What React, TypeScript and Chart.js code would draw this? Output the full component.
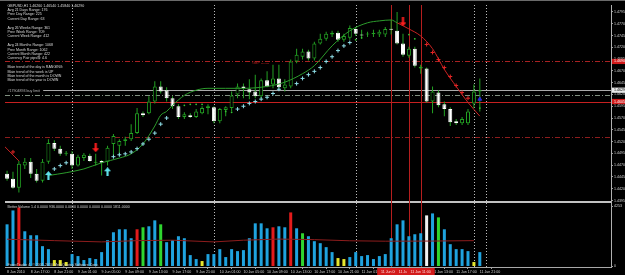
import React, { useEffect, useRef } from 'react';
import { Chart, registerables } from 'chart.js';

Chart.register(...registerables);

// ---------- data (GBPUSD H1) ----------
const OPEN = [
  1.4452, 1.4441, 1.4422, 1.4469, 1.4477, 1.4452, 1.4437, 1.4477, 1.4517, 1.4505,
  1.4494, 1.4494, 1.4469, 1.4485, 1.4490, 1.4475, 1.4479, 1.4477, 1.4515, 1.4511,
  1.4521, 1.4525, 1.4538, 1.4580, 1.4580, 1.4605, 1.4637, 1.4629, 1.4612, 1.4595,
  1.4572, 1.4576, 1.4572, 1.4580, 1.4591, 1.4593, 1.4563, 1.4587, 1.4591, 1.4620,
  1.4637, 1.4631, 1.4626, 1.4616, 1.4650, 1.4641, 1.4654, 1.4633, 1.4637, 1.4690,
  1.4700, 1.4711, 1.4696, 1.4728, 1.4738, 1.4747, 1.4751, 1.4736, 1.4740, 1.4759,
  1.4747, 1.4747, 1.4748, 1.4747, 1.4747, 1.4759, 1.4755, 1.4728, 1.4702, 1.4717,
  1.4675, 1.4675, 1.4605, 1.4624, 1.4599, 1.4589, 1.4563, 1.4559, 1.4559, 1.4601,
  1.4626,
];
const HIGH = [
  1.4458, 1.4456, 1.4479, 1.4485, 1.4485, 1.4462, 1.4483, 1.4525, 1.4523, 1.4511,
  1.4500, 1.4500, 1.4492, 1.4496, 1.4494, 1.4494, 1.4481, 1.4511, 1.4536, 1.4525,
  1.4530, 1.4557, 1.4591, 1.4584, 1.4616, 1.4648, 1.4648, 1.4635, 1.4616, 1.4599,
  1.4582, 1.4580, 1.4589, 1.4595, 1.4599, 1.4595, 1.4591, 1.4595, 1.4626, 1.4643,
  1.4643, 1.4652, 1.4662, 1.4654, 1.4669, 1.4683, 1.4683, 1.4652, 1.4694, 1.4717,
  1.4717, 1.4715, 1.4732, 1.4749, 1.4753, 1.4755, 1.4755, 1.4749, 1.4766, 1.4763,
  1.4757, 1.4753, 1.4757, 1.4757, 1.4763, 1.4778, 1.4795, 1.4749, 1.4721, 1.4721,
  1.4683, 1.4677, 1.4637, 1.4629, 1.4605, 1.4593, 1.4568, 1.4572, 1.4589, 1.4641,
  1.4654,
];
const LOW = [
  1.4437, 1.4420, 1.4412, 1.4462, 1.4443, 1.4433, 1.4433, 1.4473, 1.4500, 1.4490,
  1.4490, 1.4462, 1.4467, 1.4479, 1.4477, 1.4469, 1.4448, 1.4469, 1.4485, 1.4490,
  1.4511, 1.4521, 1.4536, 1.4572, 1.4578, 1.4601, 1.4622, 1.4605, 1.4589, 1.4568,
  1.4568, 1.4570, 1.4570, 1.4578, 1.4578, 1.4559, 1.4559, 1.4574, 1.4584, 1.4612,
  1.4612, 1.4610, 1.4612, 1.4612, 1.4635, 1.4633, 1.4633, 1.4626, 1.4633, 1.4686,
  1.4694, 1.4692, 1.4692, 1.4726, 1.4734, 1.4742, 1.4732, 1.4732, 1.4736, 1.4744,
  1.4738, 1.4742, 1.4742, 1.4742, 1.4742, 1.4747, 1.4726, 1.4700, 1.4698, 1.4677,
  1.4664, 1.4603, 1.4580, 1.4593, 1.4574, 1.4553, 1.4555, 1.4555, 1.4555, 1.4591,
  1.4584,
];
const CLOSE = [
  1.4441, 1.4422, 1.4473, 1.4477, 1.4452, 1.4437, 1.4477, 1.4517, 1.4505, 1.4494,
  1.4496, 1.4469, 1.4488, 1.4492, 1.4479, 1.4477, 1.4475, 1.4507, 1.4532, 1.4521,
  1.4525, 1.4538, 1.4580, 1.4576, 1.4605, 1.4637, 1.4626, 1.4612, 1.4595, 1.4572,
  1.4578, 1.4572, 1.4584, 1.4591, 1.4595, 1.4563, 1.4589, 1.4593, 1.4618, 1.4637,
  1.4633, 1.4624, 1.4616, 1.4650, 1.4637, 1.4654, 1.4635, 1.4641, 1.4690, 1.4704,
  1.4711, 1.4696, 1.4728, 1.4738, 1.4749, 1.4751, 1.4736, 1.4744, 1.4761, 1.4749,
  1.4745, 1.4749, 1.4749, 1.4753, 1.4759, 1.4757, 1.4728, 1.4704, 1.4717, 1.4681,
  1.4679, 1.4605, 1.4626, 1.4597, 1.4589, 1.4561, 1.4559, 1.4568, 1.4584, 1.4626,
  1.4629,
];

const VOLUME = [
  2940, 3920, 4130, 2450, 2170, 2170, 1400, 1190, 420, 420,
  280, 840, 700, 420, 560, 490, 980, 1820, 2380, 2590,
  2590, 1960, 2590, 2730, 2800, 3220, 2940, 1680, 1820, 2100,
  1960, 770, 490, 350, 840, 840, 1190, 630, 1190, 1050,
  1120, 1960, 3010, 3010, 2660, 2730, 2800, 2730, 3780, 2660,
  2310, 2100, 1750, 1610, 1330, 980, 560, 490, 630, 980,
  700, 770, 490, 700, 840, 1960, 2940, 3220, 2100, 2240,
  2310, 3570, 3710, 3430, 2590, 1540, 1190, 1190, 1050, 280,
  980,
];
// b = normal, r = climax, g = low-volume churn, y = low volume, w = climax churn
const VOLUME_KIND = [
  'b', 'b', 'r', 'b', 'b', 'b', 'b', 'b', 'y', 'y',
  'y', 'b', 'b', 'b', 'b', 'b', 'b', 'b', 'b', 'b',
  'b', 'b', 'r', 'g', 'b', 'b', 'g', 'b', 'b', 'b',
  'b', 'b', 'b', 'y', 'b', 'b', 'b', 'b', 'b', 'b',
  'b', 'b', 'b', 'b', 'b', 'r', 'b', 'b', 'r', 'b',
  'g', 'b', 'b', 'b', 'b', 'b', 'y', 'y', 'b', 'b',
  'b', 'b', 'b', 'b', 'b', 'b', 'b', 'b', 'b', 'b',
  'b', 'w', 'b', 'g', 'b', 'b', 'b', 'b', 'b', 'y',
  'b',
];
const VOLUME_MA_INDEX = [0, 8, 16, 22, 28, 35, 40, 46, 52, 58, 64, 72, 79];
const VOLUME_MA = [1890, 1790, 1700, 1790, 1820, 1700, 1820, 1900, 1860, 1780, 1750, 1760, 1790];

const GREEN_MA_INDEX = [7, 10, 13, 16, 19, 21, 23, 25, 26, 27, 28, 30, 32, 34, 37, 40, 44, 47, 50, 52, 55, 58, 61, 63, 65, 66];
const GREEN_MA = [
  1.4448, 1.4454, 1.4462, 1.4475, 1.4485, 1.4494, 1.4515, 1.4553, 1.4576, 1.4584,
  1.4597, 1.4618, 1.4629, 1.4633, 1.4633, 1.4633, 1.4637, 1.4646, 1.4664, 1.4681,
  1.4723, 1.4755, 1.4772, 1.4776, 1.4778, 1.4772,
];
const RED_MA_INDEX = [66, 68, 70, 72, 74, 76, 78, 80];
const RED_MA = [1.4772, 1.4759, 1.4744, 1.4717, 1.4673, 1.4637, 1.4603, 1.4574];
const PREV_RED_MA_INDEX = [-1, 2];
const PREV_RED_MA = [1.4517, 1.4479];

const UP_STOP_INDEX = [8, 9, 10, 18, 19, 20, 21, 22, 23, 24, 25, 26, 27, 39, 40, 41, 42, 43, 44, 45, 46, 49, 50, 51, 52, 53, 54, 55, 56, 57, 58];
const UP_STOP = [
  1.4462, 1.4469, 1.4475, 1.4488, 1.4492, 1.4494, 1.4498, 1.4505, 1.4515, 1.4525,
  1.4538, 1.4557, 1.4570, 1.4589, 1.4595, 1.4601, 1.4605, 1.4610, 1.4614, 1.4622,
  1.4631, 1.4643, 1.4654, 1.4662, 1.4669, 1.4677, 1.4690, 1.4700, 1.4713, 1.4723,
  1.4730,
];
const NEUTRAL_DOT_INDEX = [30, 31, 32, 33, 37, 38, 59, 60, 68, 69, 80];
const NEUTRAL_DOT = [1.4597, 1.4599, 1.4599, 1.4599, 1.4584, 1.4582, 1.4736, 1.4740, 1.4747, 1.4738, 1.4591];
const DOWN_STOP_INDEX = [1, 71, 72, 73, 74, 75, 76, 77, 78];
const DOWN_STOP = [1.4498, 1.4726, 1.4709, 1.4694, 1.4677, 1.4658, 1.4639, 1.4624, 1.4612];
const MARK_INDEX = [80];
const MARK = [1.4610];

const BUY_ARROW_INDEX = [7, 17];
const BUY_ARROW = [1.4448, 1.4456];
const SELL_ARROW_INDEX = [15, 67];
const SELL_ARROW = [1.4507, 1.4774];

const RESIST_LEVEL = 1.4690;
const BID_LEVEL = 1.4629;
const BUY_LIMIT_LEVEL = 1.4619;
const SUPPORT_LEVEL = 1.4605;
const LOWER_LEVEL = 1.4530;

const PRICE_TICKS = [
  1.4795, 1.4770, 1.4745, 1.4720, 1.4695, 1.4670, 1.4645, 1.4620, 1.4595,
  1.4570, 1.4545, 1.4520, 1.4495, 1.4470, 1.4445, 1.4420, 1.4395,
];
const TIME_TICKS = [0, 4, 8, 12, 16, 20, 24, 28, 32, 36, 40, 44, 48, 52, 56, 60, 64, 68, 72, 76, 80];
const TIME_LABELS = [
  '8 Jun 2010', '8 Jun 17:00', '8 Jun 21:00', '9 Jun 01:00', '9 Jun 05:00', '9 Jun 09:00',
  '9 Jun 13:00', '9 Jun 17:00', '9 Jun 21:00', '10 Jun 01:00', '10 Jun 05:00', '10 Jun 09:00',
  '10 Jun 13:00', '10 Jun 17:00', '10 Jun 21:00', '11 Jun 01:00', '11 Jun 05:00', '11 Jun 09:00',
  '11 Jun 13:00', '11 Jun 17:00', '11 Jun 21:00',
];
const DAY_SEPARATORS = [11, 35, 59, 79, 81];
const MARKED_BARS = [65, 68, 70];
const MARKED_TIMES = ['11 Jun 06:00', '11 Jun 09:00', '11 Jun 11:00'];
const VOLUME_AXIS_LABELS = [4253, 0];

const INFO_LINES = [
  'GBPUSD,H1 1.46260 1.46540 1.45840 1.46290',
  'Avg 21 Days Range: 176',
  'Prev Day Range: 225',
  'Current Day Range: 63',
  '',
  'Avg 26 Weeks Range: 361',
  'Prev Week Range: 709',
  'Current Week Range: 412',
  '',
  'Avg 24 Months Range: 1068',
  'Prev Month Range: 1062',
  'Current Month Range: 422',
  'Currency Pair pips/$: 4.6',
  '',
  'Main trend of the day is RANGING',
  'Main trend of the week is UP',
  'Main trend of the month is DOWN',
  'Main trend of the year is DOWN',
];
const ORDER_LABEL = '#17904893 buy limit';
const VOLUME_TITLE = 'Better Volume 1.4 0.0000 936.0000 0.0000 0.0000 0.0000 0.0000 1811.0000';
const COPYRIGHT = 'ForexTrader 4, \u00A9 2001-2010 MetaQuotes Software Corp.';
const LEVEL_TAG = 'GBP -------';
const LEVEL_TAG_INDEX = 41.5;

// ---------- axis ranges ----------
const X_MIN = -0.35;
const X_MAX = 102.2;
const PRICE_MIN = 1.425394;
const PRICE_MAX = 1.480974;
const PANEL_SPLIT_PRICE = 1.4393;
const VOL_MIN = -70;
const VOL_MAX = 18410;

const FONT = '"Liberation Sans", Arial, sans-serif';
const SMALL = 3.6;
const GREEN = '#23a123';
const VOLUME_COLORS = { b: '#1fa3df', r: '#e31b1b', g: '#2fd52f', y: '#e6e62e', w: '#f2f2f2' };

const pts = (xs: number[], ys: number[]) => xs.map((x, k) => ({ x, y: ys[k] }));

function makeArrow(color: string, up: boolean) {
  const c = document.createElement('canvas');
  c.width = 7;
  c.height = 9;
  const g = c.getContext('2d')!;
  g.fillStyle = color;
  g.beginPath();
  if (up) {
    g.moveTo(3.5, 0); g.lineTo(7, 4); g.lineTo(4.6, 4); g.lineTo(4.6, 9);
    g.lineTo(2.4, 9); g.lineTo(2.4, 4); g.lineTo(0, 4);
  } else {
    g.moveTo(3.5, 9); g.lineTo(7, 5); g.lineTo(4.6, 5); g.lineTo(4.6, 0);
    g.lineTo(2.4, 0); g.lineTo(2.4, 5); g.lineTo(0, 5);
  }
  g.closePath();
  g.fill();
  return c;
}

const overlay = {
  id: 'mt4Overlay',
  beforeDatasetsDraw(chart: any) {
    const { ctx, chartArea: a } = chart;
    const x = chart.scales.x;
    const y = chart.scales.y;
    ctx.save();
    ctx.lineWidth = 1;
    const hline = (price: number, color: string, dash: number[]) => {
      const py = Math.round(y.getPixelForValue(price)) + 0.5;
      ctx.strokeStyle = color;
      ctx.setLineDash(dash);
      ctx.beginPath();
      ctx.moveTo(a.left, py);
      ctx.lineTo(a.right, py);
      ctx.stroke();
    };
    const vline = (i: number, color: string, dash: number[]) => {
      const px = Math.round(x.getPixelForValue(i)) + 0.5;
      ctx.strokeStyle = color;
      ctx.setLineDash(dash);
      ctx.beginPath();
      ctx.moveTo(px, a.top);
      ctx.lineTo(px, a.bottom);
      ctx.stroke();
    };
    const sy = Math.round(y.getPixelForValue(PANEL_SPLIT_PRICE));
    ctx.fillStyle = '#c2c2c2';
    ctx.fillRect(a.left, sy, a.right - a.left, 2);
    hline(RESIST_LEVEL, '#a82222', [5, 2, 1, 2]);
    hline(LOWER_LEVEL, '#8c1d1d', [5, 2, 1, 2]);
    hline(BUY_LIMIT_LEVEL, '#7f8f7f', [5, 2, 1, 2]);
    hline(BID_LEVEL, '#a9a9a9', []);
    hline(SUPPORT_LEVEL, '#c62020', []);
    DAY_SEPARATORS.forEach((i) => vline(i, '#bdbdbd', [1, 2]));
    MARKED_BARS.forEach((i) => vline(i, '#b51e1e', []));
    ctx.restore();
  },
  afterDatasetsDraw(chart: any) {
    const { ctx, chartArea: a } = chart;
    const x = chart.scales.x;
    const y = chart.scales.y;
    ctx.save();
    ctx.font = `${SMALL}px ${FONT}`;
    ctx.textBaseline = 'middle';
    ctx.textAlign = 'left';
    ctx.fillStyle = '#dcdcdc';
    INFO_LINES.forEach((t, k) => {
      if (t) ctx.fillText(t, a.left + 2.5, a.top + 0.5 + k * 4.4);
    });
    const oy = y.getPixelForValue(BUY_LIMIT_LEVEL) - 4;
    const ow = ctx.measureText(ORDER_LABEL).width;
    ctx.fillStyle = '#000';
    ctx.fillRect(a.left, oy - 2.5, ow + 6, 5);
    ctx.fillStyle = '#b8b8b8';
    ctx.fillText(ORDER_LABEL, a.left + 2.5, oy);
    const sy = y.getPixelForValue(PANEL_SPLIT_PRICE);
    ctx.fillStyle = '#cfcfcf';
    ctx.fillText(VOLUME_TITLE, a.left + 2.5, sy + 6);
    ctx.fillText(COPYRIGHT, a.left + 2.5, a.bottom - 2.5);
    ctx.fillStyle = '#b52020';
    ctx.fillText(LEVEL_TAG, x.getPixelForValue(LEVEL_TAG_INDEX), y.getPixelForValue(RESIST_LEVEL) + 1.8);
    ctx.restore();
  },
  afterDraw(chart: any) {
    const { ctx, chartArea: a, width } = chart;
    const x = chart.scales.x;
    const y = chart.scales.y;
    const yv = chart.scales.yv;
    ctx.save();
    ctx.fillStyle = '#6a6a6a';
    ctx.fillRect(0, 0, width, 1);
    ctx.font = `${SMALL}px ${FONT}`;
    ctx.textBaseline = 'middle';
    ctx.textAlign = 'left';
    const tag = (price: number, bg: string, fg: string) => {
      const py = y.getPixelForValue(price);
      ctx.fillStyle = bg;
      ctx.fillRect(a.right + 1, py - 2.6, width - a.right, 5.2);
      ctx.fillStyle = fg;
      ctx.fillText(price.toFixed(5), a.right + 3, py);
    };
    tag(RESIST_LEVEL, '#d21a1a', '#ffffff');
    tag(BID_LEVEL, '#e8e8e8', '#000000');
    tag(SUPPORT_LEVEL, '#d21a1a', '#ffffff');
    ctx.strokeStyle = '#a0a0a0';
    ctx.lineWidth = 1;
    VOLUME_AXIS_LABELS.forEach((v) => {
      const py = yv.getPixelForValue(v);
      ctx.beginPath();
      ctx.moveTo(a.right, Math.round(py) + 0.5);
      ctx.lineTo(a.right + 2, Math.round(py) + 0.5);
      ctx.stroke();
      ctx.fillStyle = '#d0d0d0';
      ctx.fillText(String(v), a.right + 3, py);
    });
    ctx.textAlign = 'center';
    MARKED_BARS.forEach((i, k) => {
      const px = x.getPixelForValue(i);
      ctx.fillStyle = '#d21a1a';
      ctx.fillRect(px - 14, a.bottom + 1, 28, 7);
      ctx.fillStyle = '#ffdede';
      ctx.fillText(MARKED_TIMES[k], px, a.bottom + 4.5);
    });
    ctx.restore();
  },
};

export default function App() {
  const ref = useRef<HTMLCanvasElement>(null);
  useEffect(() => {
    document.body.style.margin = '0';
    document.body.style.background = '#000';
    const idx = OPEN.map((_, i) => i);
    const bull = idx.map((i) => CLOSE[i] >= OPEN[i]);
    const tickFont = { family: FONT, size: SMALL };
    const chart = new Chart(ref.current as HTMLCanvasElement, {
      type: 'bar',
      data: {
        datasets: [
          {
            type: 'bar',
            yAxisID: 'yv',
            data: VOLUME.map((v, i) => ({ x: i, y: v })),
            backgroundColor: VOLUME_KIND.map((k) => (VOLUME_COLORS as any)[k]),
            barThickness: 3,
            grouped: false,
            borderWidth: 0,
            inflateAmount: 0,
            order: 10,
          } as any,
          {
            type: 'line',
            yAxisID: 'yv',
            data: pts(VOLUME_MA_INDEX, VOLUME_MA),
            borderColor: '#8e1d1d',
            borderWidth: 1,
            pointRadius: 0,
            order: 9,
          } as any,
          {
            type: 'bar',
            yAxisID: 'y',
            data: idx.map((i) => ({ x: i, y: [LOW[i], HIGH[i]] })),
            backgroundColor: GREEN,
            barThickness: 1,
            grouped: false,
            borderWidth: 0,
            minBarLength: 1,
            inflateAmount: 0,
            order: 8,
          } as any,
          {
            type: 'bar',
            yAxisID: 'y',
            data: idx.map((i) => ({ x: i, y: [OPEN[i], CLOSE[i]] })),
            backgroundColor: bull.map((b) => (b ? '#000000' : '#ffffff')),
            borderColor: bull.map((b) => (b ? GREEN : '#ffffff')),
            borderWidth: 1,
            borderSkipped: false,
            barThickness: 4,
            grouped: false,
            minBarLength: 1,
            inflateAmount: 0,
            order: 7,
          } as any,
          {
            type: 'line',
            yAxisID: 'y',
            data: pts(GREEN_MA_INDEX, GREEN_MA),
            borderColor: '#2c9c2c',
            borderWidth: 1,
            pointRadius: 0,
            cubicInterpolationMode: 'monotone',
            order: 6,
          } as any,
          {
            type: 'line',
            yAxisID: 'y',
            data: pts(RED_MA_INDEX, RED_MA),
            borderColor: '#c92222',
            borderWidth: 1,
            pointRadius: 0,
            cubicInterpolationMode: 'monotone',
            order: 6,
          } as any,
          {
            type: 'line',
            yAxisID: 'y',
            data: pts(PREV_RED_MA_INDEX, PREV_RED_MA),
            borderColor: '#c92222',
            borderWidth: 1,
            pointRadius: 0,
            order: 6,
          } as any,
          {
            type: 'line',
            yAxisID: 'y',
            data: pts(UP_STOP_INDEX, UP_STOP),
            showLine: false,
            pointStyle: 'cross',
            pointRadius: 2,
            pointBorderColor: '#8fdfe8',
            pointBorderWidth: 1,
            order: 4,
          } as any,
          {
            type: 'line',
            yAxisID: 'y',
            data: pts(NEUTRAL_DOT_INDEX, NEUTRAL_DOT),
            showLine: false,
            pointStyle: 'circle',
            pointRadius: 0.9,
            pointBackgroundColor: '#34c234',
            pointBorderWidth: 0,
            order: 4,
          } as any,
          {
            type: 'line',
            yAxisID: 'y',
            data: pts(DOWN_STOP_INDEX, DOWN_STOP),
            showLine: false,
            pointStyle: 'cross',
            pointRadius: 2,
            pointBorderColor: '#e52525',
            pointBorderWidth: 1,
            order: 4,
          } as any,
          {
            type: 'line',
            yAxisID: 'y',
            data: pts(MARK_INDEX, MARK),
            showLine: false,
            pointStyle: 'triangle',
            pointRadius: 2.2,
            pointBackgroundColor: '#2b2bd8',
            pointBorderColor: '#2b2bd8',
            order: 3,
          } as any,
          {
            type: 'line',
            yAxisID: 'y',
            data: pts(BUY_ARROW_INDEX, BUY_ARROW),
            showLine: false,
            pointStyle: makeArrow('#5fe3ea', true),
            pointRadius: 4,
            order: 1,
          } as any,
          {
            type: 'line',
            yAxisID: 'y',
            data: pts(SELL_ARROW_INDEX, SELL_ARROW),
            showLine: false,
            pointStyle: makeArrow('#ff1e1e', false),
            pointRadius: 4,
            order: 1,
          } as any,
        ],
      },
      options: {
        animation: false,
        responsive: false,
        devicePixelRatio: 1,
        events: [],
        layout: { padding: { top: 3, left: 0, right: 0, bottom: 0 } },
        plugins: {
          legend: { display: false },
          tooltip: { enabled: false },
          title: { display: false },
        },
        scales: {
          x: {
            type: 'linear',
            position: 'bottom',
            min: X_MIN,
            max: X_MAX,
            offset: false,
            grid: { display: true, drawOnChartArea: false, drawTicks: true, tickLength: 2, color: '#9a9a9a' },
            border: { display: true, color: '#a8a8a8', width: 1 },
            ticks: {
              autoSkip: false,
              maxRotation: 0,
              minRotation: 0,
              align: 'start',
              padding: 0.5,
              color: '#d0d0d0',
              font: tickFont,
              callback: (v: any) => {
                const k = TIME_TICKS.indexOf(Number(v));
                return k >= 0 ? TIME_LABELS[k] : '';
              },
            },
            afterBuildTicks: (s: any) => {
              s.ticks = TIME_TICKS.map((v) => ({ value: v }));
            },
            afterFit: (s: any) => {
              s.height = 8;
            },
          },
          y: {
            type: 'linear',
            position: 'right',
            min: PRICE_MIN,
            max: PRICE_MAX,
            grid: { display: true, drawOnChartArea: false, drawTicks: true, tickLength: 2, color: '#9a9a9a' },
            border: { display: true, color: '#b0b0b0', width: 1 },
            ticks: {
              autoSkip: false,
              padding: 1,
              color: '#d0d0d0',
              font: tickFont,
              callback: (v: any) => Number(v).toFixed(5),
            },
            afterBuildTicks: (s: any) => {
              s.ticks = PRICE_TICKS.map((v) => ({ value: v }));
            },
            afterFit: (s: any) => {
              s.width = 14;
            },
          },
          yv: {
            type: 'linear',
            display: false,
            min: VOL_MIN,
            max: VOL_MAX,
          },
        },
      } as any,
      plugins: [overlay],
    });
    return () => chart.destroy();
  }, []);

  return (
    <div style={{ position: 'fixed', left: 0, top: 0, width: 625, height: 275, background: '#000' }}>
      <canvas ref={ref} width={625} height={275} style={{ display: 'block', width: 625, height: 275 }} />
    </div>
  );
}
